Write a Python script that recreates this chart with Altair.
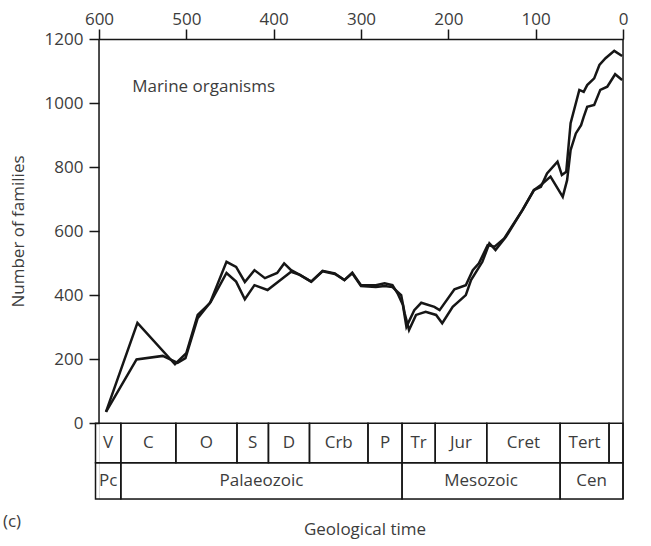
import altair as alt
import pandas as pd

# ---------------- data ----------------
time_a = [592, 556, 513, 500, 487, 473, 454, 443, 433, 422, 410, 396, 388, 380, 370, 357, 344, 330, 319, 310,
          300, 283, 273, 264, 258, 252, 248, 239, 231, 216, 210, 193, 180, 172, 165, 155, 147, 136, 130, 115,
          102, 94, 87, 75, 70, 65, 60, 50, 45, 41, 33, 27, 20, 10, 1]
fam_a = [35, 313, 184, 219, 338, 375, 504, 488, 441, 478, 453, 469, 499, 478, 463, 442, 476, 468, 447, 470,
         431, 431, 437, 431, 405, 369, 301, 353, 376, 363, 353, 418, 431, 478, 499, 556, 551, 577, 603, 666,
         728, 738, 780, 817, 775, 785, 937, 1041, 1035, 1056, 1077, 1119, 1140, 1163, 1147]

time_b = [592, 557, 527, 510, 501, 487, 472, 454, 443, 433, 422, 407, 390, 380, 370, 357, 344, 330, 319, 310,
          300, 283, 273, 264, 254, 250, 245, 237, 226, 214, 207, 195, 180, 174, 161, 153, 146, 134, 115, 102,
          94, 83, 69, 64, 60, 54, 48, 45, 41, 33, 26, 18, 9, 1]
fam_b = [35, 199, 210, 188, 203, 328, 379, 469, 442, 387, 431, 416, 452, 473, 463, 442, 474, 466, 447, 468,
         428, 425, 428, 425, 400, 343, 291, 338, 348, 338, 312, 363, 400, 447, 504, 562, 541, 582, 666, 728,
         744, 770, 707, 759, 853, 905, 931, 957, 988, 994, 1041, 1051, 1090, 1072]

period_names = ["V", "C", "O", "S", "D", "Crb", "P", "Tr", "Jur", "Cret", "Tert", ""]
period_start = [604, 575, 512, 442, 406, 359, 292, 253, 215, 156, 72, 16]
period_end = [575, 512, 442, 406, 359, 292, 253, 215, 156, 72, 16, 0]

era_names = ["Pc", "Palaeozoic", "Mesozoic", "Cen"]
era_start = [604, 575, 253, 72]
era_end = [575, 253, 72, 0]

x_ticks = [600, 500, 400, 300, 200, 100, 0]
y_ticks = [0, 200, 400, 600, 800, 1000, 1200]

x_title = "Geological time"
panel_label = "(c)"
series_label = "Marine organisms"

# ---------------- layout constants ----------------
Y_MAX = 1200
ROW_SPLIT = -124
Y_MIN = -237
FONT = "Open Sans"
TXT = "#3c3c3c"
INK = "#161616"

lines_df = pd.concat([
    pd.DataFrame({"t": time_a, "v": fam_a, "s": "a"}),
    pd.DataFrame({"t": time_b, "v": fam_b, "s": "b"}),
], ignore_index=True)

period_df = pd.DataFrame({"name": period_names, "start": period_start, "end": period_end})
period_df["mid"] = (period_df["start"] + period_df["end"]) / 2
period_df["top"] = 0
period_df["bot"] = ROW_SPLIT
period_df["ymid"] = ROW_SPLIT / 2

era_df = pd.DataFrame({"name": era_names, "start": era_start, "end": era_end})
era_df["mid"] = (era_df["start"] + era_df["end"]) / 2
era_df["top"] = ROW_SPLIT
era_df["bot"] = Y_MIN
era_df["ymid"] = (ROW_SPLIT + Y_MIN) / 2

frame_df = pd.DataFrame({"t": [x_ticks[0], x_ticks[-1]], "lo": [0, Y_MIN], "hi": [Y_MAX, Y_MAX]})

xscale = alt.Scale(domain=[0, 600], reverse=True, nice=False, zero=False)
yscale = alt.Scale(domain=[Y_MIN, Y_MAX], nice=False, zero=False)

x_axis = alt.Axis(orient="top", values=x_ticks, title=None, grid=False, tickSize=10, tickColor=INK,
                  tickWidth=1.5, domainColor=INK, domainWidth=1.5, labelFontSize=17, labelFont=FONT,
                  labelColor=TXT, labelPadding=1, labelFlush=False, labelOverlap=False, format="d")
y_axis = alt.Axis(orient="left", values=y_ticks, domain=False, grid=False, tickSize=10, tickColor=INK,
                  tickWidth=1.5, labelFontSize=17, labelFont=FONT, labelColor=TXT, labelPadding=6,
                  format="d", title="Number of families", titleFont=FONT, titleFontSize=17,
                  titleFontWeight="normal", titleColor=TXT, titleX=-81, titleY=192, titleAngle=270,
                  titleAlign="center", titleBaseline="middle")

lines = alt.Chart(lines_df).mark_line(strokeWidth=2.5, strokeJoin="miter").encode(
    x=alt.X("t:Q", scale=xscale, axis=x_axis),
    y=alt.Y("v:Q", scale=yscale, axis=y_axis),
    detail="s:N",
    color=alt.value(INK),
    order=alt.Order("t:Q", sort="descending"),
)

frame = alt.Chart(frame_df).mark_rule(color=INK, strokeWidth=1.5).encode(
    x=alt.X("t:Q", scale=xscale), y=alt.Y("lo:Q", scale=yscale), y2="hi:Q")

def boxes(df):
    rect = alt.Chart(df).mark_rect(fill="white", fillOpacity=0, stroke=INK, strokeWidth=1.5).encode(
        x=alt.X("start:Q", scale=xscale), x2="end:Q",
        y=alt.Y("top:Q", scale=yscale), y2="bot:Q")
    txt = alt.Chart(df).mark_text(font=FONT, fontSize=17, color=TXT, baseline="middle").encode(
        x=alt.X("mid:Q", scale=xscale), y=alt.Y("ymid:Q", scale=yscale), text="name:N")
    return rect + txt

label_df = pd.DataFrame({"t": [562], "v": [1050], "txt": [series_label]})
label = alt.Chart(label_df).mark_text(font=FONT, fontSize=17, color=TXT, align="left",
                                      baseline="middle").encode(
    x=alt.X("t:Q", scale=xscale), y=alt.Y("v:Q", scale=yscale), text="txt:N")

panel = alt.Chart(pd.DataFrame({"txt": [panel_label]})).mark_text(
    font=FONT, fontSize=17, color=TXT, baseline="middle").encode(
    x=alt.value(-87), y=alt.value(483), text="txt:N")

xtitle = alt.Chart(pd.DataFrame({"txt": [x_title]})).mark_text(
    font=FONT, fontSize=17, color=TXT, baseline="middle", align="center").encode(
    x=alt.value(266), y=alt.value(491), text="txt:N")

chart = alt.layer(lines, boxes(period_df), boxes(era_df), frame, label, panel, xtitle).properties(
    width=524, height=460,
    padding={"left": 99, "top": 39, "right": 28, "bottom": 47},
    autosize=alt.AutoSizeParams(type="none"),
).configure_view(stroke=None).configure(background="white")

chart.save("out.html", embed_options={"renderer": "svg", "actions": False})
